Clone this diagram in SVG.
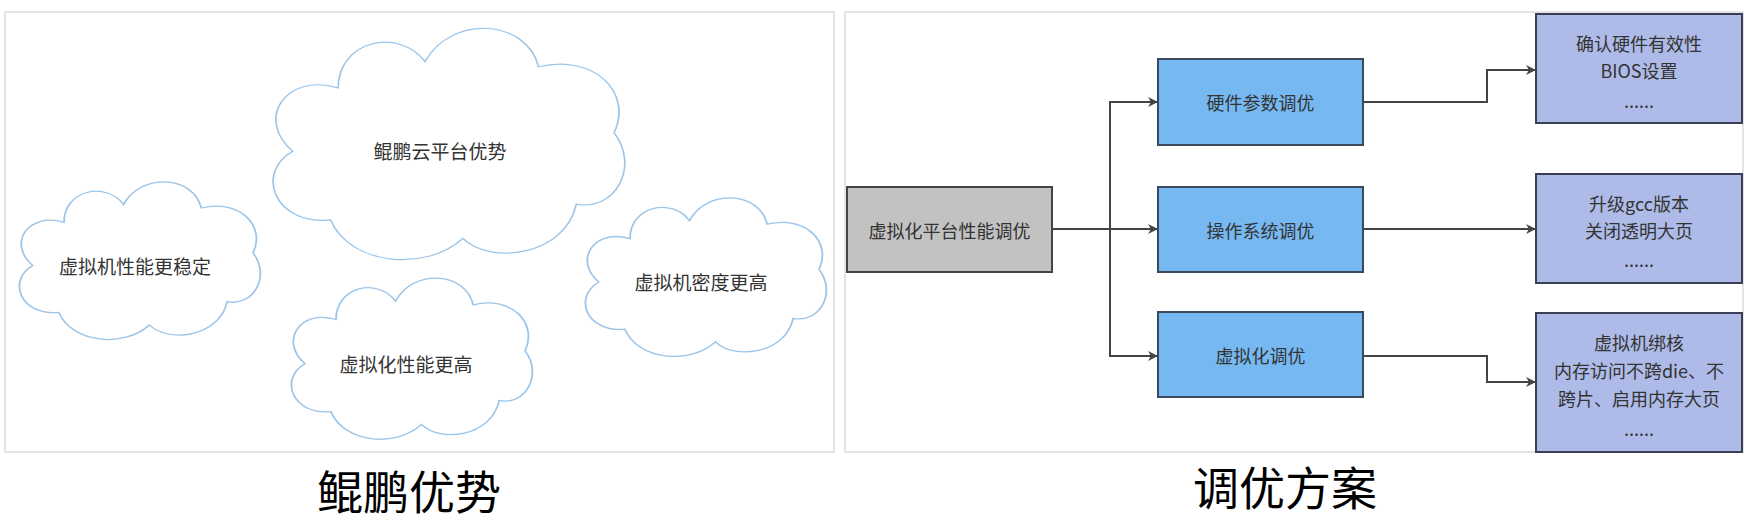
<svg xmlns="http://www.w3.org/2000/svg" width="1758" height="523" viewBox="0 0 1758 523">
<defs>
<style>
.panel{fill:#fff;stroke:#dcdcdc;stroke-width:1.5}
.cloud{fill:#fff;stroke:#9cc5ea;stroke-width:1.6}
.t{font-family:"Noto Sans CJK SC","Microsoft YaHei",sans-serif;fill:#333;text-anchor:middle;dominant-baseline:central}
.ct{font-size:19px}
.bt{font-size:18px}
.title{font-size:46px;fill:#000}
.gray{fill:#c2c2c2;stroke:#444;stroke-width:2}
.blue{fill:#76b9f2;stroke:#3a4a5c;stroke-width:2}
.purple{fill:#aebbe8;stroke:#3a3f55;stroke-width:2}
.conn{fill:none;stroke:#444;stroke-width:2;marker-end:url(#arr)}
</style>
<marker id="arr" markerWidth="10" markerHeight="10" refX="9" refY="5" orient="auto" markerUnits="userSpaceOnUse">
<path d="M0,0 L10,5 L0,10 L3,5 Z" fill="#444"/>
</marker>
<path id="cl" d="M 20 78 C 5 80 0 60 10 52 C 0 40 8 22 22 28 C 22 10 38 5 45 18 C 52 0 72 2 75 20 C 90 15 100 30 95 45 C 102 58 95 75 85 72 C 82 92 62 95 55 85 C 45 98 25 95 20 78 Z"/>
</defs>
<rect width="1758" height="523" fill="#fff"/>
<rect class="panel" x="5" y="12" width="829" height="440"/>
<rect class="panel" x="845" y="12" width="898" height="440"/>

<g id="cloud-main"><use href="#cl" class="cloud" transform="translate(255 14) scale(3.78 2.64)" vector-effect="non-scaling-stroke" style="stroke-width:0.45"/><text class="t ct" x="440" y="150">鲲鹏云平台优势</text></g>
<g id="cloud-left"><use href="#cl" class="cloud" transform="translate(7 172) scale(2.59 1.8)" style="stroke-width:0.7"/><text class="t ct" x="135" y="265">虚拟机性能更稳定</text></g>
<g id="cloud-bottom"><use href="#cl" class="cloud" transform="translate(279 268) scale(2.59 1.84)" style="stroke-width:0.7"/><text class="t ct" x="406" y="363">虚拟化性能更高</text></g>
<g id="cloud-right"><use href="#cl" class="cloud" transform="translate(573 188) scale(2.59 1.81)" style="stroke-width:0.7"/><text class="t ct" x="701" y="281">虚拟机密度更高</text></g>

<g id="connectors">
<path class="conn" d="M1052 229 L1157 229"/>
<path class="conn" d="M1110 229 L1110 102 L1157 102"/>
<path class="conn" d="M1110 229 L1110 356 L1157 356"/>
<path class="conn" d="M1363 102 L1487 102 L1487 70 L1535 70"/>
<path class="conn" d="M1363 229 L1535 229"/>
<path class="conn" d="M1363 356 L1487 356 L1487 382 L1535 382"/>
</g>

<g id="root"><rect class="gray" x="847" y="187" width="205" height="85"/><text class="t bt" x="949.5" y="229.5">虚拟化平台性能调优</text></g>
<g id="hw"><rect class="blue" x="1158" y="59" width="205" height="86"/><text class="t bt" x="1260.5" y="102">硬件参数调优</text></g>
<g id="os"><rect class="blue" x="1158" y="187" width="205" height="85"/><text class="t bt" x="1260.5" y="229.5">操作系统调优</text></g>
<g id="virt"><rect class="blue" x="1158" y="312" width="205" height="85"/><text class="t bt" x="1260.5" y="355">虚拟化调优</text></g>
<g id="hw-detail"><rect class="purple" x="1536" y="14" width="206" height="109"/>
<text class="t bt" x="1639" y="43">确认硬件有效性</text><text class="t bt" x="1639" y="70">BIOS设置</text><text class="t bt" x="1639" y="100">......</text></g>
<g id="os-detail"><rect class="purple" x="1536" y="174" width="206" height="109"/>
<text class="t bt" x="1639" y="203">升级gcc版本</text><text class="t bt" x="1639" y="230">关闭透明大页</text><text class="t bt" x="1639" y="259">......</text></g>
<g id="virt-detail"><rect class="purple" x="1536" y="313" width="206" height="139"/>
<text class="t bt" x="1639" y="342">虚拟机绑核</text><text class="t bt" x="1639" y="370">内存访问不跨die、不</text><text class="t bt" x="1639" y="398">跨片、启用内存大页</text><text class="t bt" x="1639" y="428">......</text></g>

<text class="t title" x="409" y="489">鲲鹏优势</text>
<text class="t title" x="1285" y="485">调优方案</text>
</svg>
